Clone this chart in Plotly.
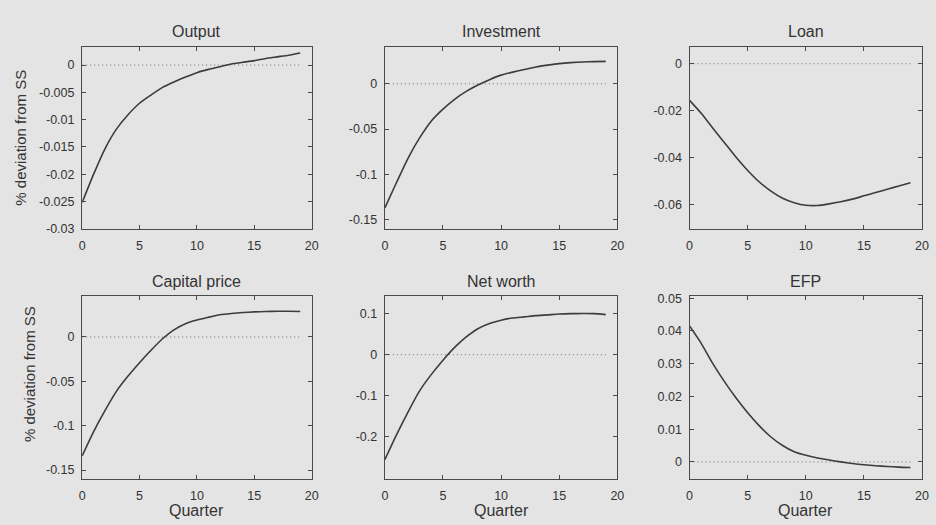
import plotly.graph_objects as go

quarters = list(range(20))

titles = ["Output", "Investment", "Loan", "Capital price", "Net worth", "EFP"]

output = [-0.0252, -0.0200, -0.0153, -0.0117, -0.0091, -0.0070, -0.0055, -0.0041, -0.0031,
          -0.0022, -0.0014, -0.0008, -0.0003, 0.0002, 0.0005, 0.0008, 0.0012, 0.0015, 0.0018, 0.0022]
investment = [-0.137, -0.109, -0.082, -0.0595, -0.0410, -0.0280, -0.0172, -0.0085, -0.0015,
              0.0045, 0.0095, 0.0128, 0.0158, 0.0185, 0.0205, 0.0222, 0.0233, 0.0240, 0.0244, 0.0247]
loan = [-0.0156, -0.0211, -0.0274, -0.0336, -0.0398, -0.0454, -0.0503, -0.0542, -0.0572,
        -0.0591, -0.0602, -0.0603, -0.0596, -0.0587, -0.0576, -0.0562, -0.0548, -0.0534, -0.0520, -0.0506]
capital_price = [-0.134, -0.1066, -0.0827, -0.0610, -0.0441, -0.0290, -0.0150, -0.0020, 0.0080,
                 0.0150, 0.0191, 0.0222, 0.0250, 0.0265, 0.0276, 0.0283, 0.0287, 0.0290, 0.0290, 0.0288]
net_worth = [-0.255, -0.195, -0.139, -0.0876, -0.048, -0.0135, 0.0175, 0.0430, 0.0630,
             0.0757, 0.0837, 0.0890, 0.0918, 0.0948, 0.0966, 0.0986, 0.0996, 0.0998, 0.0996, 0.0972]
efp = [0.0415, 0.0362, 0.0300, 0.0245, 0.0195, 0.0150, 0.0110, 0.0076, 0.0050,
       0.0031, 0.0020, 0.0012, 0.0006, 0.0000, -0.0005, -0.0009, -0.0012, -0.0014, -0.0016, -0.0017]

series = [output, investment, loan, capital_price, net_worth, efp]

y_ranges = [[-0.03, 0.0033], [-0.16, 0.0405], [-0.0702, 0.0071],
            [-0.16, 0.046], [-0.302, 0.142], [-0.0052, 0.0506]]
y_ticks = [[-0.03, -0.025, -0.02, -0.015, -0.01, -0.005, 0],
           [-0.15, -0.1, -0.05, 0],
           [-0.06, -0.04, -0.02, 0],
           [-0.15, -0.1, -0.05, 0],
           [-0.2, -0.1, 0, 0.1],
           [0, 0.01, 0.02, 0.03, 0.04, 0.05]]
y_ticktext = [["-0.03", "-0.025", "-0.02", "-0.015", "-0.01", "-0.005", "0"],
              ["-0.15", "-0.1", "-0.05", "0"],
              ["-0.06", "-0.04", "-0.02", "0"],
              ["-0.15", "-0.1", "-0.05", "0"],
              ["-0.2", "-0.1", "0", "0.1"],
              ["0", "0.01", "0.02", "0.03", "0.04", "0.05"]]
x_ticks = [0, 5, 10, 15, 20]
x_title = "Quarter"
y_title = "% deviation from SS"

W, H = 936, 525
col_px = [(80, 312), (386, 621), (694, 929)]
row_px = [(43, 229), (298, 485)]
ytitle_px = [(18, 136), (27, 378)]

BG = "#e4e4e4"
AX = "#4a4a4a"
TXT = "#333333"
FONT = "Liberation Sans, Arial, sans-serif"

fig = go.Figure()
layout = {}
annotations = []
for i in range(6):
    r, c = divmod(i, 3)
    n = i + 1
    xa = "xaxis" if n == 1 else f"xaxis{n}"
    ya = "yaxis" if n == 1 else f"yaxis{n}"
    xref = "x" if n == 1 else f"x{n}"
    yref = "y" if n == 1 else f"y{n}"
    x0, x1 = col_px[c]
    t0, t1 = row_px[r]
    layout[xa] = dict(domain=[x0 / W, x1 / W], range=[0, 20], anchor=yref,
                      tickvals=x_ticks, ticks="inside", ticklen=4, tickcolor=AX,
                      ticklabelstandoff=5,
                      showline=True, linecolor=AX, linewidth=1.3, mirror="ticks",
                      showgrid=False, zeroline=False,
                      tickfont=dict(size=12.5, color=TXT, family=FONT))
    layout[ya] = dict(domain=[1 - t1 / H, 1 - t0 / H], range=y_ranges[i], anchor=xref,
                      tickvals=y_ticks[i], ticktext=y_ticktext[i],
                      ticks="inside", ticklen=4, tickcolor=AX,
                      ticklabelstandoff=4,
                      showline=True, linecolor=AX, linewidth=1.3, mirror="ticks",
                      showgrid=False, zeroline=False,
                      tickfont=dict(size=12.5, color=TXT, family=FONT))
    # zero reference line (dotted)
    fig.add_trace(go.Scatter(x=[quarters[0], quarters[-1]], y=[0, 0], mode="lines",
                             line=dict(color="#707070", width=1, dash="1px,3px"),
                             xaxis=xref, yaxis=yref, showlegend=False, hoverinfo="skip"))
    fig.add_trace(go.Scatter(x=quarters, y=series[i], mode="lines",
                             line=dict(color="#3c3c3c", width=1.6, shape="spline", smoothing=0.6),
                             xaxis=xref, yaxis=yref, showlegend=False, name=titles[i]))
    annotations.append(dict(text=titles[i], x=(x0 + x1) / 2 / W, y=1 - (t0 - 15.5) / H,
                            xref="paper", yref="paper", xanchor="center", yanchor="middle",
                            showarrow=False, font=dict(size=16, color=TXT, family=FONT)))
    if r == 1:
        annotations.append(dict(text=x_title, x=(x0 + x1) / 2 / W, y=0,
                                xref="paper", yref="paper", xanchor="center", yanchor="bottom",
                                yshift=-3,
                                showarrow=False, font=dict(size=16, color=TXT, family=FONT)))
    if c == 0:
        px, py = ytitle_px[r]
        annotations.append(dict(text=y_title, x=px / W, y=1 - py / H, textangle=-90,
                                xref="paper", yref="paper", xanchor="center", yanchor="middle",
                                showarrow=False, font=dict(size=15, color=TXT, family=FONT)))

fig.update_layout(**layout)
fig.update_layout(width=W, height=H, margin=dict(l=0, r=0, t=0, b=0),
                  paper_bgcolor=BG, plot_bgcolor=BG, annotations=annotations,
                  font=dict(family=FONT, color=TXT))
fig.write_html("out.html", config={"displayModeBar": False},
               post_script="document.body.style.margin='0';document.body.style.overflow='hidden';")
